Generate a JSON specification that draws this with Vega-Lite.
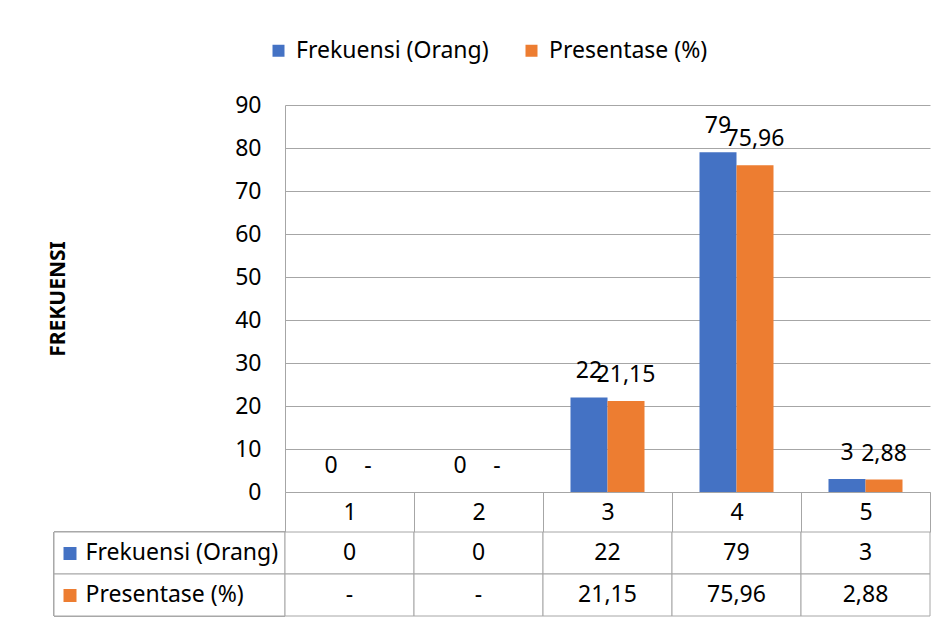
{
  "$schema": "https://vega.github.io/schema/vega-lite/v6.json",
  "padding": {"left": 47, "top": 39, "right": 14, "bottom": 6},
  "background": "white",
  "data": {
    "values": [
      {"kat": "1", "seri": "Frekuensi (Orang)", "nilai": 0, "label": "0"},
      {"kat": "1", "seri": "Presentase (%)", "nilai": 0, "label": "-"},
      {"kat": "2", "seri": "Frekuensi (Orang)", "nilai": 0, "label": "0"},
      {"kat": "2", "seri": "Presentase (%)", "nilai": 0, "label": "-"},
      {"kat": "3", "seri": "Frekuensi (Orang)", "nilai": 22, "label": "22"},
      {"kat": "3", "seri": "Presentase (%)", "nilai": 21.15, "label": "21,15"},
      {"kat": "4", "seri": "Frekuensi (Orang)", "nilai": 79, "label": "79"},
      {"kat": "4", "seri": "Presentase (%)", "nilai": 75.96, "label": "75,96"},
      {"kat": "5", "seri": "Frekuensi (Orang)", "nilai": 3, "label": "3"},
      {"kat": "5", "seri": "Presentase (%)", "nilai": 2.88, "label": "2,88"}
    ]
  },
  "columns": 2,
  "spacing": {"row": 40, "column": 0},
  "bounds": "flush",
  "resolve": {"scale": {"x": "independent", "y": "independent"}},
  "concat": [
    {
      "width": 231,
      "height": 387,
      "mark": {"type": "text", "text": "", "opacity": 0},
      "encoding": {}
    },
    {
      "width": 645,
      "height": 387,
      "encoding": {
        "x": {
          "field": "kat", "type": "nominal", "title": null,
          "scale": {"paddingInner": 0, "paddingOuter": 0},
          "axis": {
            "labelAngle": 0, "domain": true, "domainColor": "#a6a6a6",
            "ticks": true, "tickBand": "extent", "tickSize": 40, "tickColor": "#a6a6a6",
            "labelBaseline": "middle", "labelPadding": -20, "labelFontSize": 23,
            "labelColor": "#000000", "grid": false
          }
        },
        "xOffset": {"field": "seri", "type": "nominal", "sort": ["Frekuensi (Orang)", "Presentase (%)"], "scale": {"paddingInner": 0, "paddingOuter": 0.743}},
        "y": {
          "field": "nilai", "type": "quantitative",
          "scale": {"domain": [0, 90], "nice": false},
          "axis": {
            "title": "FREKUENSI", "titleFontWeight": "bold", "titleFontSize": 21,
            "titleColor": "#000000", "titlePadding": 166,
            "values": [0, 10, 20, 30, 40, 50, 60, 70, 80, 90],
            "labelFontSize": 23, "labelColor": "#000000", "labelPadding": 24,
            "ticks": false, "domain": true, "domainColor": "#a6a6a6",
            "grid": true, "gridColor": "#a6a6a6", "gridWidth": 1
          }
        }
      },
      "layer": [
        {
          "mark": {"type": "bar"},
          "encoding": {
            "color": {
              "field": "seri", "type": "nominal",
              "scale": {"domain": ["Frekuensi (Orang)", "Presentase (%)"], "range": ["#4472C4", "#ED7D31"]},
              "legend": {
                "title": null, "orient": "none", "legendX": 213, "legendY": -66,
                "direction": "horizontal", "symbolType": "square", "symbolSize": 144,
                "symbolStrokeWidth": 0, "labelFontSize": 23, "labelColor": "#000000",
                "labelLimit": 400, "labelOffset": 6, "columnPadding": 31, "padding": 0
              }
            }
          }
        },
        {
          "mark": {"type": "text", "dy": -26, "baseline": "middle", "fontSize": 23, "color": "#000000"},
          "encoding": {"text": {"field": "label"}}
        }
      ]
    },
    {
      "width": 231,
      "height": 84,
      "encoding": {
        "y": {
          "field": "seri", "type": "nominal", "sort": ["Frekuensi (Orang)", "Presentase (%)"],
          "scale": {"paddingInner": 0, "paddingOuter": 0},
          "axis": {
            "title": null, "orient": "left", "offset": -22, "zindex": 1,
            "domain": false, "grid": false,
            "ticks": true, "tickSize": 13, "tickWidth": 13,
            "tickColor": {"condition": {"test": "datum.value === 'Frekuensi (Orang)'", "value": "#4472C4"}, "value": "#ED7D31"},
            "labelAlign": "left", "labelPadding": -22, "labelBaseline": "middle",
            "labelFontSize": 23, "labelColor": "#000000", "labelLimit": 300
          }
        }
      },
      "mark": {"type": "rect", "fill": "white", "stroke": "#a6a6a6", "strokeWidth": 1}
    },
    {
      "width": 645,
      "height": 84,
      "encoding": {
        "x": {"field": "kat", "type": "nominal", "axis": null, "scale": {"paddingInner": 0, "paddingOuter": 0}},
        "y": {
          "field": "seri", "type": "nominal", "sort": ["Frekuensi (Orang)", "Presentase (%)"],
          "axis": null, "scale": {"paddingInner": 0, "paddingOuter": 0}
        }
      },
      "layer": [
        {"mark": {"type": "rect", "fill": "white", "stroke": "#a6a6a6", "strokeWidth": 1}},
        {
          "mark": {"type": "text", "baseline": "middle", "fontSize": 23, "color": "#000000"},
          "encoding": {"text": {"field": "label"}}
        }
      ]
    }
  ],
  "config": {
    "font": "Noto Sans",
    "view": {"stroke": null},
    "axis": {"labelFont": "Noto Sans", "titleFont": "Noto Sans"},
    "legend": {"labelFont": "Noto Sans"}
  }
}
